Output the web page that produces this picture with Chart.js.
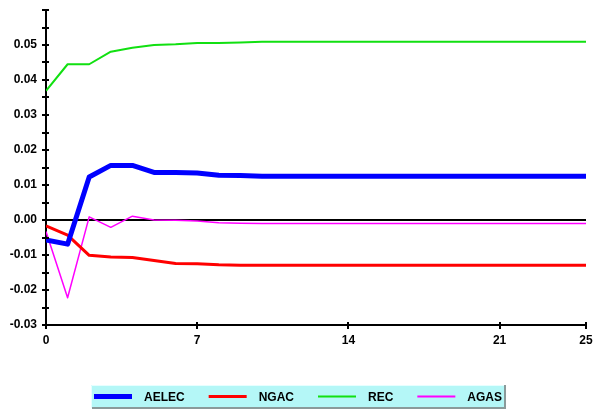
<!DOCTYPE html>
<html>
<head>
<meta charset="utf-8">
<script src="https://cdn.jsdelivr.net/npm/chart.js@4/dist/chart.umd.min.js"></script>
<style>
  html, body { margin: 0; padding: 0; background: #fff; }
  #wrap { width: 597px; height: 414px; }
</style>
</head>
<body>
<div id="wrap"><canvas id="chart" width="597" height="414"></canvas></div>
<script>
// periods 0..25
var periods = [0, 1, 2, 3, 4, 5, 6, 7, 8, 9, 10, 11, 12, 13, 14, 15, 16, 17, 18, 19, 20, 21, 22, 23, 24, 25];
var xTickValues = [0, 7, 14, 21, 25];

var aelec = [-0.0057, -0.0069, 0.0123, 0.0156, 0.0156, 0.0136, 0.0136, 0.0134, 0.0128, 0.0127, 0.0125,
             0.0125, 0.0125, 0.0125, 0.0125, 0.0125, 0.0125, 0.0125, 0.0125, 0.0125, 0.0125, 0.0125, 0.0125, 0.0125, 0.0125, 0.0125];
var ngac  = [-0.0017, -0.0043, -0.0101, -0.0106, -0.0107, -0.0116, -0.0124, -0.0125, -0.0128, -0.0129, -0.0129,
             -0.0129, -0.0129, -0.0129, -0.0129, -0.0129, -0.0129, -0.0129, -0.0129, -0.0129, -0.0129, -0.0129, -0.0129, -0.0129, -0.0129, -0.0129];
var rec   = [0.0369, 0.0445, 0.0445, 0.0481, 0.0492, 0.0500, 0.0502, 0.0506, 0.0506, 0.0507, 0.0509,
             0.0509, 0.0509, 0.0509, 0.0509, 0.0509, 0.0509, 0.0509, 0.0509, 0.0509, 0.0509, 0.0509, 0.0509, 0.0509, 0.0509, 0.0509];
var agas  = [-0.0033, -0.0222, 0.0009, -0.0021, 0.0011, 0.0000, -0.0001, -0.0003, -0.0008, -0.0009, -0.0010,
             -0.0010, -0.0010, -0.0010, -0.0010, -0.0010, -0.0010, -0.0010, -0.0010, -0.0010, -0.0010, -0.0010, -0.0010, -0.0010, -0.0010, -0.0010];

function pts(arr) {
  var out = [];
  for (var i = 0; i < periods.length; i++) out.push({x: periods[i], y: arr[i]});
  return out;
}

var FAMILY = '"Liberation Sans", Arial, sans-serif';
var FONT = 'bold 12px ' + FAMILY;

// small tick marks crossing the axes
var crossTicks = {
  id: 'crossTicks',
  afterDatasetsDraw: function(chart) {
    var ctx = chart.ctx, a = chart.chartArea;
    var ys = chart.scales.y, xs = chart.scales.x;
    ctx.save();
    ctx.strokeStyle = '#000';
    ctx.lineWidth = 2;
    ys.ticks.forEach(function(t) {
      var py = Math.round(ys.getPixelForValue(t.value));
      ctx.beginPath(); ctx.moveTo(a.left - 4, py); ctx.lineTo(a.left + 3, py); ctx.stroke();
    });
    xs.ticks.forEach(function(t) {
      var px = Math.round(xs.getPixelForValue(t.value));
      ctx.beginPath(); ctx.moveTo(px, a.bottom - 3); ctx.lineTo(px, a.bottom + 4); ctx.stroke();
    });
    ctx.restore();
  }
};

// boxed legend under the plot
var boxLegend = {
  id: 'boxLegend',
  afterDraw: function(chart) {
    var ctx = chart.ctx;
    ctx.save();
    ctx.font = FONT;
    var lineLen = 38, gap = 12, sep = 24, pad = 3;
    var items = chart.data.datasets.map(function(ds) {
      return {label: ds.label, color: ds.borderColor, lw: Math.max(ds.borderWidth, 2), tw: ctx.measureText(ds.label).width};
    });
    var total = pad * 2;
    items.forEach(function(it, i) { total += lineLen + gap + it.tw + (i < items.length - 1 ? sep : 0); });
    var x0 = Math.round((chart.width - total) / 2), y0 = 385, h = 23;
    ctx.fillStyle = '#b4f7f7';
    ctx.fillRect(x0, y0, total, h);
    ctx.strokeStyle = '#e6ffff';
    ctx.lineWidth = 1;
    ctx.beginPath(); ctx.moveTo(x0 + 0.5, y0 + h); ctx.lineTo(x0 + 0.5, y0 + 0.5); ctx.lineTo(x0 + total, y0 + 0.5); ctx.stroke();
    ctx.strokeStyle = '#8a9a9a';
    ctx.lineWidth = 2;
    ctx.beginPath(); ctx.moveTo(x0 + 1, y0 + h); ctx.lineTo(x0 + total, y0 + h); ctx.lineTo(x0 + total, y0); ctx.stroke();
    var x = x0 + pad, cy = y0 + 11.5;
    ctx.textBaseline = 'middle';
    ctx.textAlign = 'left';
    items.forEach(function(it) {
      ctx.strokeStyle = it.color;
      ctx.lineWidth = it.lw;
      ctx.beginPath(); ctx.moveTo(x, cy); ctx.lineTo(x + lineLen, cy); ctx.stroke();
      x += lineLen + gap;
      ctx.fillStyle = '#000';
      ctx.fillText(it.label, x, cy + 1);
      x += it.tw + sep;
    });
    ctx.restore();
  }
};

var ctxChart = document.getElementById('chart').getContext('2d');
var chart = new Chart(ctxChart, {
  type: 'line',
  data: {
    datasets: [
      {label: 'AELEC', data: pts(aelec), borderColor: '#0000ff', borderWidth: 5},
      {label: 'NGAC',  data: pts(ngac),  borderColor: '#ff0000', borderWidth: 3},
      {label: 'REC',   data: pts(rec),   borderColor: '#11e011', borderWidth: 2},
      {label: 'AGAS',  data: pts(agas),  borderColor: '#ff00ff', borderWidth: 1.5}
    ]
  },
  options: {
    responsive: false,
    animation: false,
    devicePixelRatio: 1,
    layout: {padding: {left: 0, right: 11, top: 10, bottom: 64}},
    elements: {
      line: {tension: 0, borderCapStyle: 'butt', borderJoinStyle: 'round'},
      point: {radius: 0, hoverRadius: 0}
    },
    plugins: {legend: {display: false}, tooltip: {enabled: false}},
    scales: {
      x: {
        type: 'linear',
        min: 0, max: 25,
        afterBuildTicks: function(s) { s.ticks = xTickValues.map(function(v) { return {value: v}; }); },
        afterFit: function(s) { s.height = 25; s.paddingLeft = 0; s.paddingRight = 0; },
        grid: {display: true, drawOnChartArea: false, drawTicks: false},
        border: {display: true, color: '#000', width: 2},
        ticks: {color: '#000', font: {family: FAMILY, size: 12, weight: 'bold'}, padding: 8, maxRotation: 0, autoSkip: false}
      },
      y: {
        min: -0.03, max: 0.06,
        afterFit: function(s) { s.width = 46; s.paddingTop = 0; s.paddingBottom = 0; },
        grid: {
          drawTicks: false,
          color: function(c) { return (c.tick && Math.abs(c.tick.value) < 1e-9) ? '#000' : 'rgba(0,0,0,0)'; },
          lineWidth: 2
        },
        border: {display: true, color: '#000', width: 2},
        ticks: {
          stepSize: 0.005,
          autoSkip: false,
          color: '#000',
          padding: 9,
          font: {family: FAMILY, size: 12, weight: 'bold'},
          callback: function(v) {
            var h = v * 100;
            if (Math.abs(h - Math.round(h)) > 1e-6 || v > 0.055) return '';
            return (Math.abs(v) < 1e-9 ? 0 : v).toFixed(2);
          }
        }
      }
    }
  },
  plugins: [crossTicks, boxLegend]
});
</script>
</body>
</html>
